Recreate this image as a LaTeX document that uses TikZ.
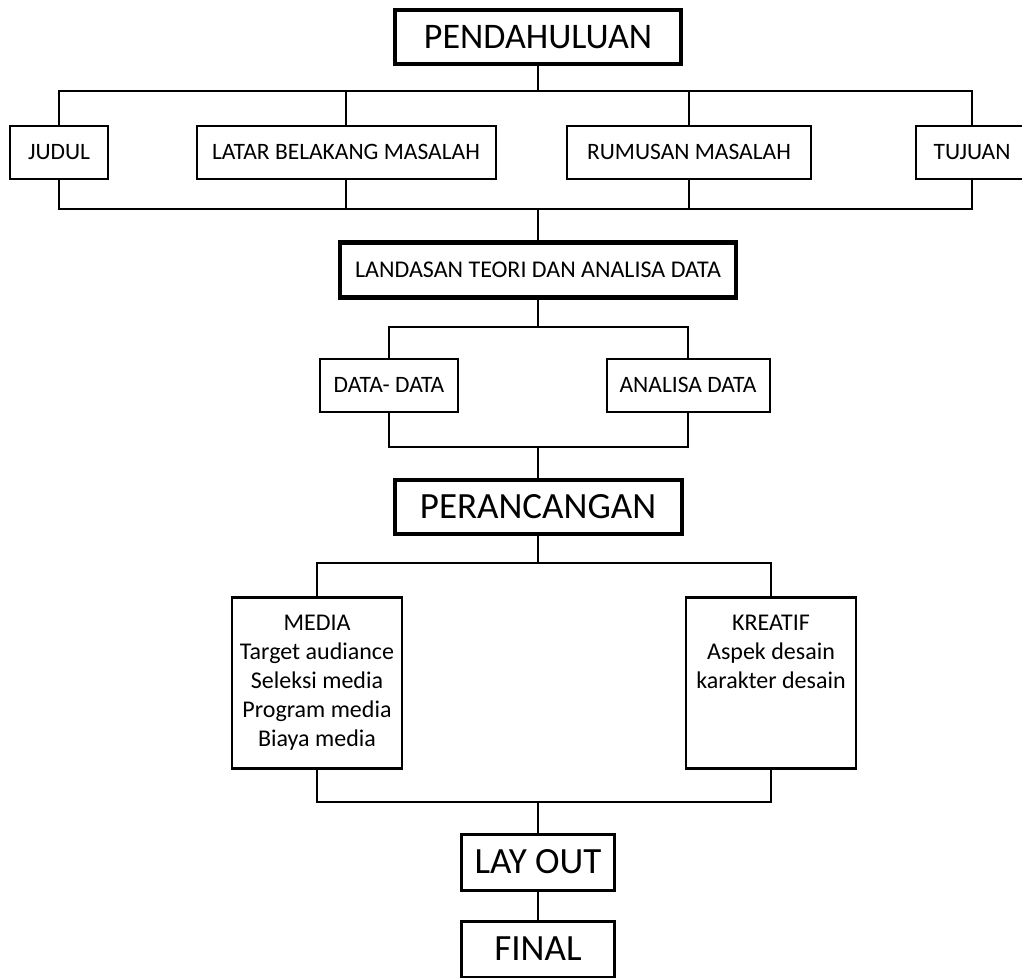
\documentclass[tikz,border=0pt]{standalone}
\usepackage{fontspec}
\setmainfont{Carlito}
\usetikzlibrary{positioning}

\begin{document}
\begin{tikzpicture}[
  x=1pt, y=-1pt,
  box/.style={rectangle, draw, fill=white, inner sep=2pt, align=center},
  headbox/.style={box, line width=4.5pt, minimum height=54pt},
  itembox/.style={box, line width=2pt, minimum height=53pt, font=\fontsize{23.5}{28}\selectfont},
  panel/.style={box, line width=2.5pt, minimum width=170pt, minimum height=171pt, font=\fontsize{24}{29}\selectfont},
  link/.style={line width=1.4pt}
]
\useasboundingbox (0,0) rectangle (1022,977);

% Main column
\node[headbox, minimum width=286pt, font=\fontsize{36}{43}\selectfont] (pend) at (538,37) {PENDAHULUAN};
\node[headbox, minimum width=396pt, minimum height=55pt, font=\fontsize{24}{29}\selectfont] (landasan) at (538,270) {LANDASAN TEORI DAN ANALISA DATA};
\node[headbox, line width=4pt, minimum width=287pt, font=\fontsize{37}{44}\selectfont] (peran) at (538,507) {PERANCANGAN};
\node[headbox, line width=3pt, minimum width=153pt, minimum height=56pt, font=\fontsize{37}{44}\selectfont] (layout) at (538,862) {LAY OUT};
\node[headbox, line width=3pt, minimum width=153pt, minimum height=56pt, font=\fontsize{37}{44}\selectfont, below=28pt of layout] (final) {FINAL};

% First row
\node[itembox, minimum width=98pt]  (judul)   at (59,152)  {JUDUL};
\node[itembox, minimum width=299pt] (latar)   at (346,152) {LATAR BELAKANG MASALAH};
\node[itembox, minimum width=244pt] (rumusan) at (689,152) {RUMUSAN MASALAH};
\node[itembox, minimum width=112pt] (tujuan)  at (972,152) {TUJUAN};

% Second row
\node[itembox, minimum width=138pt] (data)    at (389,385) {DATA- DATA};
\node[itembox, minimum width=163pt] (analisa) at (688,385) {ANALISA DATA};

% Panels
\node[panel] (media) at (317,683) {MEDIA\\Target audiance\\Seleksi media\\Program media\\Biaya media};
\node[panel, text depth=63pt] (kreatif) at (771,683) {KREATIF\\Aspek desain\\karakter desain};

% Bar points
\coordinate (bar1) at (538,91);
\coordinate (bar2) at (538,209);
\coordinate (bar3) at (538,327);
\coordinate (bar4) at (538,447);
\coordinate (bar5) at (538,563);
\coordinate (bar6) at (538,802);

% Edges
\draw[link] (pend) -- (bar1);
\foreach \n in {judul,latar,rumusan,tujuan}
  \draw[link] (bar1) -| (\n);
\foreach \n in {judul,latar,rumusan,tujuan}
  \draw[link] (\n) |- (bar2);
\draw[link] (judul |- bar2) -- (tujuan |- bar2);
\draw[link] (bar2) -- (landasan);
\draw[link] (landasan) -- (bar3);
\foreach \n in {data,analisa}
  \draw[link] (bar3) -| (\n);
\foreach \n in {data,analisa}
  \draw[link] (\n) |- (bar4);
\draw[link] (bar4) -- (peran);
\draw[link] (peran) -- (bar5);
\foreach \n in {media,kreatif}
  \draw[link] (bar5) -| (\n);
\foreach \n in {media,kreatif}
  \draw[link] (\n) |- (bar6);
\draw[link] (bar6) -- (layout);
\draw[link] (layout) -- (final);
\end{tikzpicture}
\end{document}
